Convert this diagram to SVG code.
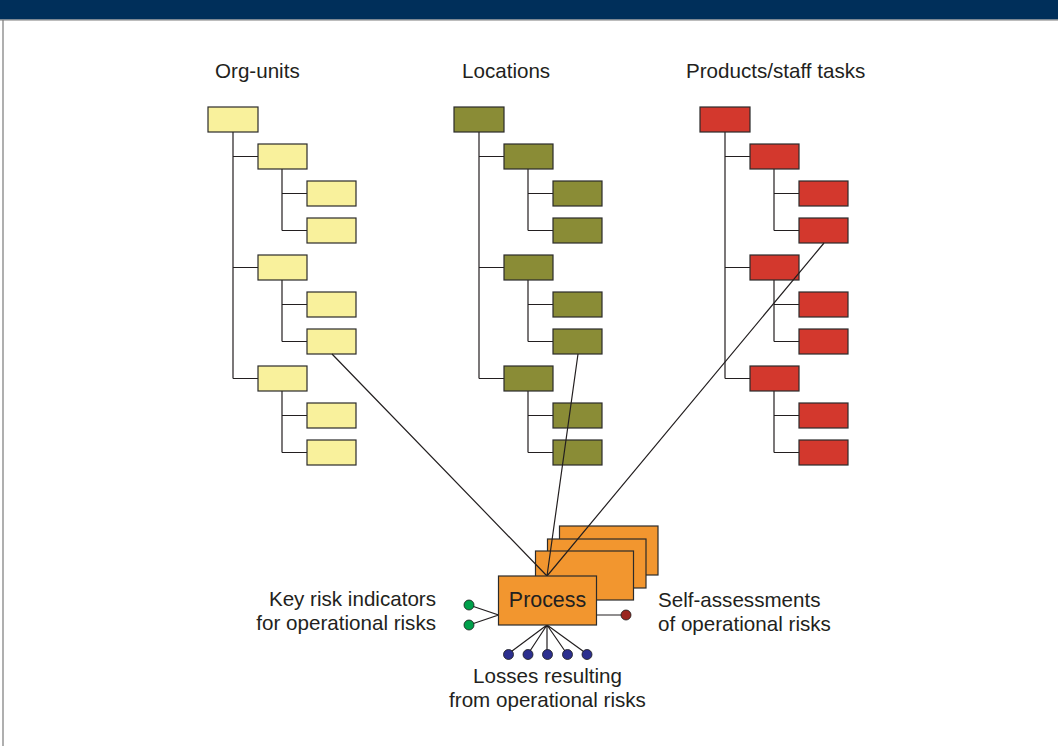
<svg xmlns="http://www.w3.org/2000/svg" width="1058" height="746" viewBox="0 0 1058 746">
<style>
.t{font-family:"Liberation Sans",Arial,sans-serif;font-size:20.6px;fill:#231f20}
.bx{stroke:#2b2b2b;stroke-width:1.2}
.y{fill:#F9F19C}.o{fill:#8A8C36}.r{fill:#D3382D}
.ln{stroke:#231f20;stroke-width:1.2;fill:none}
.card{fill:#F2962F;stroke:#2b2b2b;stroke-width:1.2}
</style>
<defs>
<g id="tree">
<path class="ln" d="M25 25V271.5M25 49.5H50M25 160.5H50M25 271.5H50M74 62V123.5M74 86.5H99M74 123.5H99M74 173V234.5M74 197.5H99M74 234.5H99M74 284V345.5M74 308.5H99M74 345.5H99"/>
</g>
</defs>
<rect x="0" y="0" width="1058" height="19.5" fill="#002F5A"/>
<line x1="0" y1="20" x2="1058" y2="20" stroke="#7a7a7a" stroke-width="1.2"/>
<line x1="3" y1="20" x2="3" y2="746" stroke="#7a7a7a" stroke-width="1.2"/>

<g id="headers">
<text class="t" x="215" y="78">Org-units</text>
<text class="t" x="462" y="78">Locations</text>
<text class="t" x="686" y="78">Products/staff tasks</text>
</g>

<g id="org-units" transform="translate(208,107)">
<use href="#tree"/>
<g class="bx y">
<rect x="0" y="0" width="50" height="25"/>
<rect x="50" y="37" width="49" height="25"/>
<rect x="99" y="74" width="49" height="25"/>
<rect x="99" y="111" width="49" height="25"/>
<rect x="50" y="148" width="49" height="25"/>
<rect x="99" y="185" width="49" height="25"/>
<rect x="99" y="222" width="49" height="25"/>
<rect x="50" y="259" width="49" height="25"/>
<rect x="99" y="296" width="49" height="25"/>
<rect x="99" y="333" width="49" height="25"/>
</g>
</g>

<g id="locations" transform="translate(454,107)">
<use href="#tree"/>
<g class="bx o">
<rect x="0" y="0" width="50" height="25"/>
<rect x="50" y="37" width="49" height="25"/>
<rect x="99" y="74" width="49" height="25"/>
<rect x="99" y="111" width="49" height="25"/>
<rect x="50" y="148" width="49" height="25"/>
<rect x="99" y="185" width="49" height="25"/>
<rect x="99" y="222" width="49" height="25"/>
<rect x="50" y="259" width="49" height="25"/>
<rect x="99" y="296" width="49" height="25"/>
<rect x="99" y="333" width="49" height="25"/>
</g>
</g>

<g id="products" transform="translate(700,107)">
<use href="#tree"/>
<g class="bx r">
<rect x="0" y="0" width="50" height="25"/>
<rect x="50" y="37" width="49" height="25"/>
<rect x="99" y="74" width="49" height="25"/>
<rect x="99" y="111" width="49" height="25"/>
<rect x="50" y="148" width="49" height="25"/>
<rect x="99" y="185" width="49" height="25"/>
<rect x="99" y="222" width="49" height="25"/>
<rect x="50" y="259" width="49" height="25"/>
<rect x="99" y="296" width="49" height="25"/>
<rect x="99" y="333" width="49" height="25"/>
</g>
</g>

<g id="process-stack">
<rect class="card" x="559.5" y="526" width="98.5" height="49"/>
<rect class="card" x="547.5" y="539" width="98.5" height="49"/>
<rect class="card" x="535.5" y="551" width="98" height="49"/>
</g>

<g id="connectors">
<path class="ln" d="M332 354L547 576M578 354L547 576M824 243L547 576"/>
<path class="ln" d="M469 605L498.5 615L469 625M596.5 615H626"/>
<path class="ln" d="M547 625L508 654M547 625L528 654M547 625V654M547 625L567 654M547 625L587 654"/>
</g>

<g id="process">
<rect class="card" x="498.5" y="576" width="98" height="49"/>
<text class="t" x="547.5" y="607" text-anchor="middle" style="font-size:21.4px">Process</text>
</g>

<g id="kri">
<circle cx="469" cy="605" r="5" fill="#00A04B" stroke="#1a1a1a" stroke-width="0.8"/>
<circle cx="469" cy="625" r="5" fill="#00A04B" stroke="#1a1a1a" stroke-width="0.8"/>
<text class="t" x="436" y="606" text-anchor="end">Key risk indicators</text>
<text class="t" x="436" y="630" text-anchor="end">for operational risks</text>
</g>

<g id="self-assessment">
<circle cx="626" cy="615" r="5" fill="#9A2620" stroke="#1a1a1a" stroke-width="0.8"/>
<text class="t" x="658" y="607">Self-assessments</text>
<text class="t" x="658" y="631">of operational risks</text>
</g>

<g id="losses">
<g fill="#2C2F8E" stroke="#1a1a1a" stroke-width="0.8">
<circle cx="508.5" cy="654.5" r="5"/>
<circle cx="528" cy="654.5" r="5"/>
<circle cx="547.5" cy="654.5" r="5"/>
<circle cx="567.5" cy="654.5" r="5"/>
<circle cx="587" cy="654.5" r="5"/>
</g>
<text class="t" x="547.5" y="683" text-anchor="middle">Losses resulting</text>
<text class="t" x="547.5" y="707" text-anchor="middle">from operational risks</text>
</g>
</svg>
